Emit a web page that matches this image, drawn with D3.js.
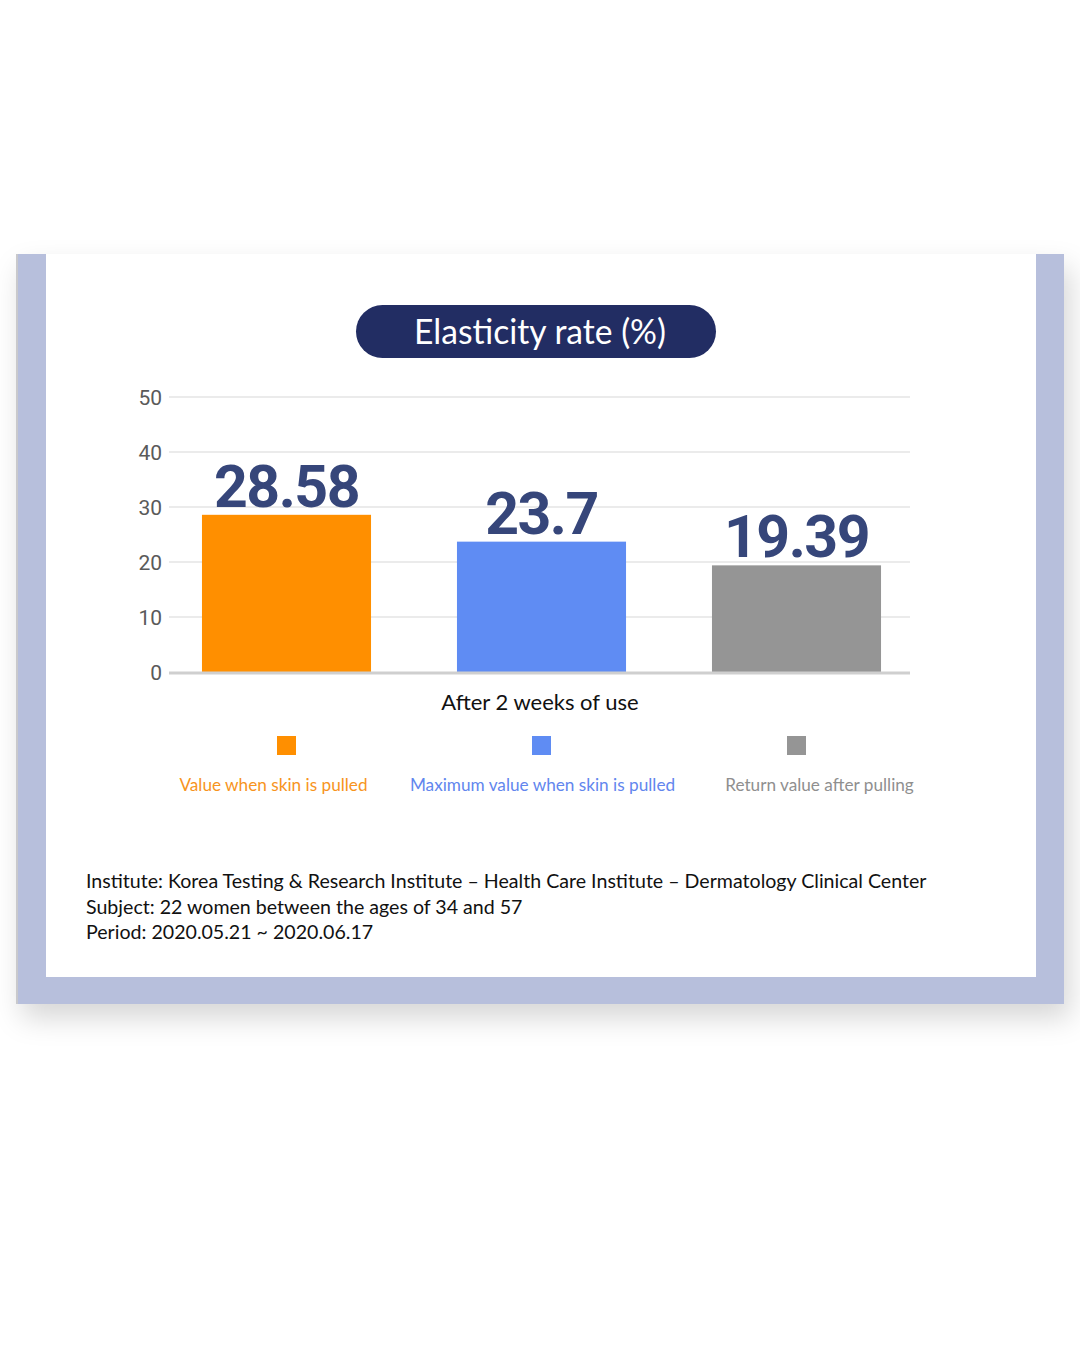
<!DOCTYPE html>
<html>
<head>
<meta charset="utf-8">
<script src="https://cdn.jsdelivr.net/npm/d3@7"></script>
<style>
  html, body { margin: 0; padding: 0; background: #ffffff; }
  svg { display: block; }
</style>
</head>
<body>
<div id="chart"></div>
<script>
// ---- data ----
const categories = ["Value when skin is pulled", "Maximum value when skin is pulled", "Return value after pulling"];
const values = [28.58, 23.7, 19.39];
const valueLabels = ["28.58", "23.7", "19.39"];
const yTicks = [0, 10, 20, 30, 40, 50];
const groupLabel = "After 2 weeks of use";
const chartTitle = "Elasticity rate (%)";
const footerLines = [
  "Institute: Korea Testing & Research Institute \u2013 Health Care Institute \u2013 Dermatology Clinical Center",
  "Subject: 22 women between the ages of 34 and 57",
  "Period: 2020.05.21 ~ 2020.06.17"
];

// ---- styles ----
const barColors = ["#ff8f00", "#5f8cf3", "#959595"];
const legendTextColors = ["#f7941d", "#6286ee", "#8f8f8f"];
const legendDx = [-13, 1, 23];

const W = 1080, H = 1350;
const svg = d3.select("#chart").append("svg").attr("width", W).attr("height", H);

const defs = svg.append("defs");
const f = defs.append("filter").attr("id", "shadow").attr("x", "-10%").attr("y", "-10%").attr("width", "130%").attr("height", "130%");
f.append("feDropShadow").attr("dx", 6).attr("dy", 14).attr("stdDeviation", 14)
  .attr("flood-color", "#000").attr("flood-opacity", 0.16);

// frame
svg.append("rect").attr("x", 16).attr("y", 254).attr("width", 1048).attr("height", 750)
  .attr("fill", "#b7bfdc").attr("filter", "url(#shadow)");
svg.append("rect").attr("x", 16).attr("y", 254).attr("width", 2).attr("height", 750).attr("fill", "#c9c9cc");
svg.append("rect").attr("x", 46).attr("y", 254).attr("width", 990).attr("height", 723).attr("fill", "#ffffff");

// title pill
svg.append("rect").attr("x", 356).attr("y", 305).attr("width", 360).attr("height", 53)
  .attr("rx", 26.5).attr("fill", "#222d63");
svg.append("text").attr("x", 540).attr("y", 344).attr("text-anchor", "middle")
  .attr("font-family", "Lato, 'Open Sans', sans-serif").attr("font-size", 35)
  .attr("fill", "#ffffff").attr("textLength", 252).attr("lengthAdjust", "spacingAndGlyphs")
  .text(chartTitle);

// scales
const y = d3.scaleLinear().domain([0, 50]).range([672, 397]);
const x = d3.scaleBand().domain(categories).range([159, 924]).padding(0);
const barW = x.bandwidth() * 0.663;

// grid
const gridG = svg.append("g");
gridG.selectAll("line").data(yTicks.filter(d => d > 0)).join("line")
  .attr("x1", 169).attr("x2", 910)
  .attr("y1", d => y(d)).attr("y2", d => y(d))
  .attr("stroke", "#ebebeb").attr("stroke-width", 2);

// y axis labels
const yAxis = d3.axisLeft(y).tickValues(yTicks).tickSize(0).tickPadding(0);
const yg = svg.append("g").attr("transform", "translate(162,0)").call(yAxis);
yg.select(".domain").remove();
yg.selectAll("text").attr("font-family", "Roboto, sans-serif").attr("font-size", 21)
  .attr("fill", "#5a5a5a").attr("dy", "0.36em");

// bars
svg.append("g").selectAll("rect").data(values).join("rect")
  .attr("x", (d, i) => x(categories[i]) + (x.bandwidth() - barW) / 2)
  .attr("width", barW)
  .attr("y", d => y(d))
  .attr("height", d => y(0) - y(d))
  .attr("fill", (d, i) => barColors[i]);

// baseline
svg.append("line").attr("x1", 169).attr("x2", 910).attr("y1", 673).attr("y2", 673)
  .attr("stroke", "#cfcfcf").attr("stroke-width", 3);

// value labels
svg.append("g").selectAll("text").data(values).join("text")
  .attr("x", (d, i) => x(categories[i]) + x.bandwidth() / 2)
  .attr("y", d => y(d) - 8)
  .attr("text-anchor", "middle")
  .attr("font-family", "Roboto, sans-serif").attr("font-weight", 700)
  .attr("font-size", 59).attr("letter-spacing", -1.5)
  .attr("fill", "#36467a")
  .text((d, i) => valueLabels[i]);

// group label
svg.append("text").attr("x", 540).attr("y", 710).attr("text-anchor", "middle")
  .attr("font-family", "Lato, sans-serif").attr("font-size", 22).attr("fill", "#111111")
  .text(groupLabel);

// legend
const lg = svg.append("g");
lg.selectAll("rect").data(categories).join("rect")
  .attr("x", d => x(d) + x.bandwidth() / 2 - 9.5).attr("y", 736)
  .attr("width", 19).attr("height", 19)
  .attr("fill", (d, i) => barColors[i]);
lg.selectAll("text").data(categories).join("text")
  .attr("x", (d, i) => x(d) + x.bandwidth() / 2 + legendDx[i]).attr("y", 791)
  .attr("text-anchor", "middle")
  .attr("font-family", "Lato, sans-serif").attr("font-size", 17.2)
  .attr("fill", (d, i) => legendTextColors[i])
  .text(d => d);

// footer
svg.append("g").selectAll("text").data(footerLines).join("text")
  .attr("x", 86).attr("y", (d, i) => 888 + i * 25.5)
  .attr("font-family", "Lato, sans-serif").attr("font-size", 19.6)
  .attr("fill", "#111111")
  .text(d => d);
</script>
</body>
</html>
